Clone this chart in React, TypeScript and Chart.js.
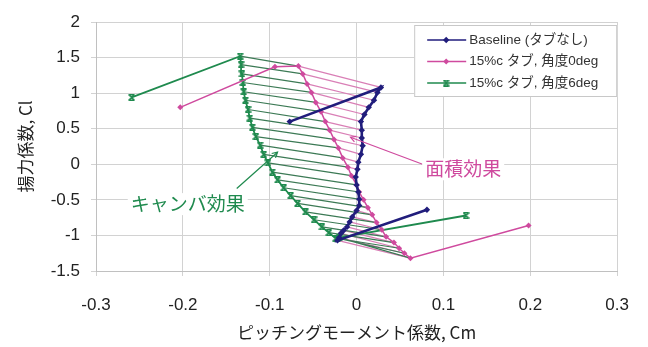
import { useEffect, useRef } from "react";
import { Chart, registerables } from "chart.js";

Chart.register(...registerables);

const FONT = "'Liberation Sans', 'Noto Sans CJK JP', sans-serif";
const JP_FONT = "'Noto Sans CJK JP', 'Liberation Sans', sans-serif";

// Series names
const seriesLabels = ["Baseline (タブなし)", "15%c タブ, 角度0deg", "15%c タブ, 角度6deg"];

// Axis ticks
const xTickValues = [-0.3, -0.2, -0.1, 0, 0.1, 0.2, 0.3];
const yTickValues = [-1.5, -1, -0.5, 0, 0.5, 1, 1.5, 2];

// Each polar in order of increasing angle of attack:
// low-alpha point, linear range (bottom -> top), post-stall point(s).
const baselineCm = [0.081, -0.022, -0.02, -0.018, -0.015, -0.011, -0.008, -0.005, 0.0, 0.003, 0.003, 0.002, 0.0, -0.001, 0.001, 0.002, 0.005, 0.007, 0.006, 0.006, 0.005, 0.009, 0.014, 0.02, 0.024, 0.028, -0.077];
const baselineCl = [-0.64, -1.07, -1.03, -0.97, -0.93, -0.88, -0.81, -0.74, -0.65, -0.58, -0.49, -0.39, -0.29, -0.18, -0.07, 0.03, 0.14, 0.26, 0.37, 0.48, 0.6, 0.7, 0.8, 0.9, 1.01, 1.08, 0.6];

const tab0Cm = [0.198, 0.062, 0.055, 0.049, 0.043, 0.034, 0.029, 0.023, 0.018, 0.013, 0.008, 0.003, 0.0, -0.006, -0.01, -0.016, -0.021, -0.026, -0.031, -0.036, -0.041, -0.047, -0.052, -0.057, -0.062, -0.067, -0.094, -0.203];
const tab0Cl = [-0.86, -1.32, -1.25, -1.18, -1.1, -1.02, -0.92, -0.82, -0.71, -0.61, -0.5, -0.39, -0.29, -0.16, -0.04, 0.09, 0.23, 0.35, 0.48, 0.6, 0.74, 0.87, 1.01, 1.13, 1.27, 1.38, 1.37, 0.8];

const tab6Cm = [0.126, -0.02, -0.022, -0.024, -0.032, -0.04, -0.049, -0.059, -0.068, -0.076, -0.084, -0.091, -0.097, -0.102, -0.107, -0.111, -0.116, -0.12, -0.123, -0.125, -0.128, -0.13, -0.131, -0.132, -0.133, -0.134, -0.259];
const tab6Cl = [-0.72, -1.03, -1.04, -1.04, -0.96, -0.88, -0.78, -0.67, -0.55, -0.44, -0.33, -0.22, -0.11, 0.02, 0.14, 0.27, 0.39, 0.52, 0.65, 0.77, 0.9, 1.02, 1.15, 1.27, 1.4, 1.52, 0.94];

// Same-alpha points joined by the shading lines
const HATCH_FIRST = 1;
const HATCH_LAST = 25;

// Callouts
const noteLabels = ["面積効果", "キャンバ効果"];
const noteCm = [0.079, -0.26];
const noteCl = [-0.07, -0.56];
const arrowFromCm = [0.076, -0.138];
const arrowFromCl = [0.0, -0.34];
const arrowToCm = [-0.007, -0.091];
const arrowToCl = [0.38, 0.17];

const NAVY = "#211d7c";
const MAGENTA = "#cf4a9e";
const GREEN = "#1f8a4e";
const GREEN_HATCH = "#3c7a55";
const PINK_HATCH = "#d97fb6";
const noteColors = [MAGENTA, GREEN];

const points = (xs: number[], ys: number[]) => xs.map((x, i) => ({ x, y: ys[i] }));

function hatch(ax: number[], ay: number[], bx: number[], by: number[]) {
  const out: { x: number; y: number }[] = [];
  for (let i = HATCH_FIRST; i <= HATCH_LAST; i++) {
    out.push({ x: ax[i], y: ay[i] }, { x: bx[i], y: by[i] }, { x: NaN, y: NaN });
  }
  return out;
}

function makeStar(color: string) {
  const c = document.createElement("canvas");
  c.width = 7;
  c.height = 7;
  const g = c.getContext("2d")!;
  g.strokeStyle = color;
  g.lineWidth = 1.5;
  g.beginPath();
  g.moveTo(0.5, 0.5);
  g.lineTo(6.5, 6.5);
  g.moveTo(6.5, 0.5);
  g.lineTo(0.5, 6.5);
  g.moveTo(0.5, 0.8);
  g.lineTo(6.5, 0.8);
  g.moveTo(0.5, 6.2);
  g.lineTo(6.5, 6.2);
  g.stroke();
  return c;
}

const fmt = (v: number) => String(Math.round(v * 10) / 10);

const calloutPlugin = {
  id: "callouts",
  afterDatasetsDraw(chart: any) {
    const { ctx, scales } = chart;
    const sx = scales.x;
    const sy = scales.y;
    ctx.save();
    noteLabels.forEach((text, i) => {
      const x1 = sx.getPixelForValue(arrowFromCm[i]);
      const y1 = sy.getPixelForValue(arrowFromCl[i]);
      const x2 = sx.getPixelForValue(arrowToCm[i]);
      const y2 = sy.getPixelForValue(arrowToCl[i]);
      ctx.strokeStyle = noteColors[i];
      ctx.lineWidth = 1.2;
      ctx.beginPath();
      ctx.moveTo(x1, y1);
      ctx.lineTo(x2, y2);
      ctx.stroke();
      const a = Math.atan2(y2 - y1, x2 - x1);
      ctx.beginPath();
      ctx.moveTo(x2 - 6 * Math.cos(a - 0.5), y2 - 6 * Math.sin(a - 0.5));
      ctx.lineTo(x2, y2);
      ctx.lineTo(x2 - 6 * Math.cos(a + 0.5), y2 - 6 * Math.sin(a + 0.5));
      ctx.stroke();

      ctx.font = `19px ${JP_FONT}`;
      const w = ctx.measureText(text).width;
      const tx = sx.getPixelForValue(noteCm[i]);
      const ty = sy.getPixelForValue(noteCl[i]);
      ctx.fillStyle = "#ffffff";
      ctx.fillRect(tx - 3, ty - 11, w + 6, 22);
      ctx.fillStyle = noteColors[i];
      ctx.textAlign = "left";
      ctx.textBaseline = "middle";
      ctx.fillText(text, tx, ty);
    });
    ctx.restore();
  },
};

const legendPlugin = {
  id: "boxLegend",
  afterDraw(chart: any) {
    const { ctx, chartArea } = chart;
    const w = 203;
    const h = 72;
    const x0 = chartArea.right - w;
    const y0 = chartArea.top + 3;
    ctx.save();
    ctx.fillStyle = "#ffffff";
    ctx.fillRect(x0, y0, w, h);
    ctx.strokeStyle = "#c8c8c8";
    ctx.lineWidth = 1;
    ctx.strokeRect(x0 + 0.5, y0 + 0.5, w - 1, h - 1);
    seriesLabels.forEach((label, i) => {
      const ds = chart.data.datasets[i];
      const y = y0 + 15 + i * 21.5;
      ctx.strokeStyle = ds.borderColor;
      ctx.lineWidth = Math.min(ds.borderWidth, 1.5);
      ctx.beginPath();
      ctx.moveTo(x0 + 13, y);
      ctx.lineTo(x0 + 52, y);
      ctx.stroke();
      const mx = x0 + 32;
      if (typeof ds.pointStyle === "string") {
        const r = ds.pointRadius;
        ctx.fillStyle = ds.pointBackgroundColor;
        ctx.beginPath();
        ctx.moveTo(mx, y - r);
        ctx.lineTo(mx + r, y);
        ctx.lineTo(mx, y + r);
        ctx.lineTo(mx - r, y);
        ctx.closePath();
        ctx.fill();
      } else {
        const img = ds.pointStyle as HTMLCanvasElement;
        ctx.drawImage(img, mx - img.width / 2, y - img.height / 2);
      }
      ctx.fillStyle = "#333333";
      ctx.font = `13.5px ${FONT}`;
      ctx.textAlign = "left";
      ctx.textBaseline = "middle";
      ctx.fillText(label, x0 + 55, y);
    });
    ctx.restore();
  },
};

export default function App() {
  const ref = useRef<HTMLCanvasElement>(null);

  useEffect(() => {
    const canvas = ref.current!;
    const star = makeStar(GREEN);
    const chart = new Chart(canvas, {
      type: "scatter",
      data: {
        datasets: [
          {
            label: seriesLabels[0],
            data: points(baselineCm, baselineCl),
            showLine: true,
            borderColor: NAVY,
            borderWidth: 2.6,
            pointStyle: "rectRot",
            pointRadius: 3.2,
            pointBackgroundColor: NAVY,
            pointBorderColor: NAVY,
            pointBorderWidth: 0,
          },
          {
            label: seriesLabels[1],
            data: points(tab0Cm, tab0Cl),
            showLine: true,
            borderColor: MAGENTA,
            borderWidth: 1.5,
            pointStyle: "rectRot",
            pointRadius: 3,
            pointBackgroundColor: MAGENTA,
            pointBorderColor: MAGENTA,
            pointBorderWidth: 0,
          },
          {
            label: seriesLabels[2],
            data: points(tab6Cm, tab6Cl),
            showLine: true,
            borderColor: GREEN,
            borderWidth: 1.8,
            pointStyle: star as any,
            pointRadius: 3.5,
          },
          {
            label: "hatch-camber",
            data: hatch(tab6Cm, tab6Cl, tab0Cm, tab0Cl),
            showLine: true,
            spanGaps: false,
            borderColor: GREEN_HATCH,
            borderWidth: 1.2,
            pointRadius: 0,
          },
          {
            label: "hatch-area",
            data: hatch(tab0Cm, tab0Cl, baselineCm, baselineCl),
            showLine: true,
            spanGaps: false,
            borderColor: PINK_HATCH,
            borderWidth: 1.2,
            pointRadius: 0,
          },
        ],
      },
      options: {
        responsive: false,
        animation: false,
        events: [],
        layout: { padding: { top: 22, right: 30, bottom: 0, left: 0 } },
        plugins: {
          legend: { display: false },
          tooltip: { enabled: false },
        },
        scales: {
          x: {
            type: "linear",
            min: -0.3,
            max: 0.3,
            afterBuildTicks: (axis: any) => {
              axis.ticks = xTickValues.map((value) => ({ value }));
            },
            afterFit: (axis: any) => {
              axis.height = 76;
            },
            grid: { color: "#d2d2d2", lineWidth: 1, tickLength: 5 },
            border: { color: "#c0c0c0" },
            ticks: {
              padding: 19,
              color: "#222",
              font: { family: FONT, size: 17 },
              callback: (v: any) => fmt(Number(v)),
            },
            title: {
              display: true,
              text: "ピッチングモーメント係数, Cm",
              color: "#222",
              font: { family: JP_FONT, size: 17 },
              padding: 4,
            },
          },
          y: {
            type: "linear",
            min: -1.5,
            max: 2,
            afterBuildTicks: (axis: any) => {
              axis.ticks = yTickValues.map((value) => ({ value }));
            },
            afterFit: (axis: any) => {
              axis.width = 96;
            },
            grid: { color: "#d2d2d2", lineWidth: 1, tickLength: 5 },
            border: { color: "#c0c0c0" },
            ticks: {
              padding: 11,
              color: "#222",
              font: { family: FONT, size: 17 },
              callback: (v: any) => fmt(Number(v)),
            },
            title: {
              display: true,
              text: "揚力係数, Cl",
              color: "#222",
              font: { family: JP_FONT, size: 17 },
              padding: 15,
            },
          },
        },
      },
      plugins: [calloutPlugin, legendPlugin],
    });
    return () => chart.destroy();
  }, []);

  return (
    <div style={{ position: "absolute", left: 0, top: 0, width: 648, height: 347, background: "#ffffff" }}>
      <canvas ref={ref} width={648} height={347} style={{ display: "block", width: 648, height: 347 }} />
    </div>
  );
}
